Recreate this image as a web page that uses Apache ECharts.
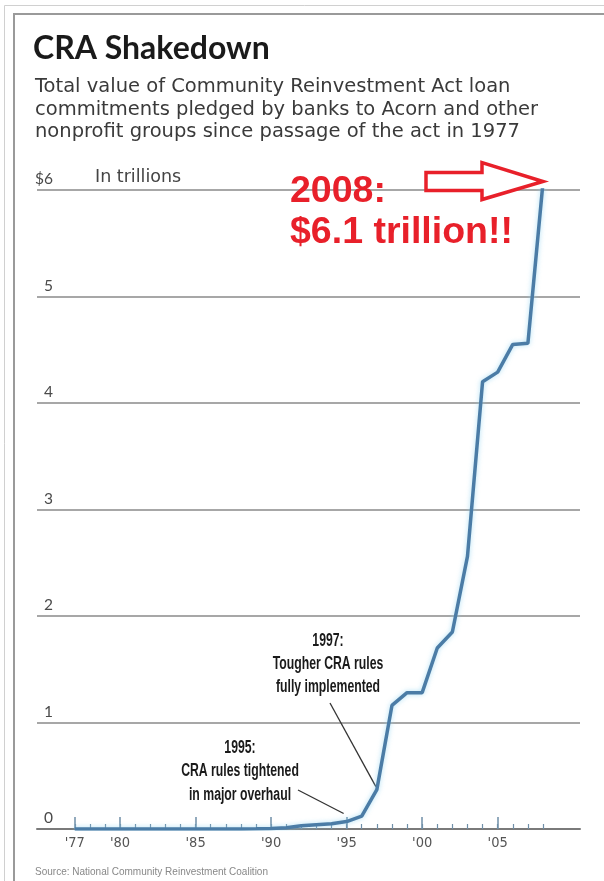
<!DOCTYPE html>
<html><head><meta charset="utf-8">
<script src="https://cdn.jsdelivr.net/npm/echarts@6/dist/echarts.min.js"></script>
<style>html,body{margin:0;padding:0;background:#fff}#c{width:604px;height:881px}</style>
</head><body><div id="c"></div>
<script>
// ---- data ----
const years = [1977,1978,1979,1980,1981,1982,1983,1984,1985,1986,1987,1988,1989,1990,1991,1992,1993,1994,1995,1996,1997,1998,1999,2000,2001,2002,2003,2004,2005,2006,2007,2008];
const values = [0,0,0,0,0,0,0,0,0,0,0,0,0.002,0.005,0.012,0.03,0.04,0.05,0.07,0.12,0.37,1.16,1.28,1.28,1.70,1.85,2.56,4.20,4.29,4.55,4.56,6.07];
const majorTickYears = [1977,1980,1985,1990,1995,2000,2005];
const xTickLabels = ["'77","'80","'85","'90","'95","'00","'05"];
const yTicks = [0,1,2,3,4,5,6];
const yTickLabels = ['0','1','2','3','4','5','$6'];
const titleText = 'CRA Shakedown';
const subtitleLines = ['Total value of Community Reinvestment Act loan','commitments pledged by banks to Acorn and other','nonprofit groups since passage of the act in 1977'];
const unitText = 'In trillions';
const sourceText = 'Source: National Community Reinvestment Coalition';
const note1997 = ['1997:','Tougher CRA rules','fully implemented'];
const note1995 = ['1995:','CRA rules tightened','in major overhaul'];
const callout = ['2008:','$6.1 trillion!!'];

const chart = echarts.init(document.getElementById('c'), null, {renderer:'canvas'});
const condensed = '"DejaVu Sans Condensed", "Liberation Sans", sans-serif';
const xMin = 1974.5, xMax = 2010.45;

chart.setOption({
  animation:false,
  backgroundColor:'#fff',
  grid:{left:37,right:24,top:190,bottom:52,containLabel:false,outerBoundsMode:'none'},
  xAxis:[{
    type:'value',min:xMin,max:xMax,position:'bottom',
    axisLine:{show:true,onZero:false,lineStyle:{color:'#7a7a7a',width:2}},
    axisTick:{show:true,inside:true,length:12,customValues:majorTickYears,lineStyle:{color:'#6f8fa8',width:1.5}},
    axisLabel:{show:true,customValues:majorTickYears,margin:7,color:'#555',fontFamily:condensed,fontSize:14.5,
      formatter:v=>xTickLabels[majorTickYears.indexOf(Math.round(v))]||''},
    splitLine:{show:false}
  },{
    type:'value',min:xMin,max:xMax,position:'bottom',offset:0,
    axisLine:{show:false},
    axisTick:{show:true,inside:true,length:5,customValues:years,lineStyle:{color:'#6f8fa8',width:1.2}},
    axisLabel:{show:false},
    splitLine:{show:false}
  }],
  yAxis:{
    type:'value',min:0,max:6,interval:1,
    axisLine:{show:false},axisTick:{show:false},
    splitLine:{show:true,lineStyle:{color:'#8a8a8a',width:1.5}},
    axisLabel:{inside:true,align:'right',margin:16,verticalAlign:'bottom',padding:[0,0,3,0],
      color:'#4a4a4a',fontFamily:'Lato',fontSize:15.5,
      formatter:v=>yTickLabels[yTicks.indexOf(v)]}
  },
  series:[{
    type:'line',xAxisIndex:0,showSymbol:false,z:5,
    data:years.map((y,i)=>[y,values[i]]),
    lineStyle:{color:'#4b7ca6',width:3.5,shadowColor:'rgba(140,210,240,0.7)',shadowBlur:5}
  }]
});

function px(x,y){return chart.convertToPixel({xAxisIndex:0,yAxisIndex:0},[x,y]);}
const tip = px(2008, values[values.length-1]);
const p97 = px(1997, values[years.indexOf(1997)]);
const p95 = px(1995, values[years.indexOf(1995)]);
const tx = tip[0], ty = tip[1]-1;

chart.setOption({graphic:[
  {type:'rect',shape:{x:4.5,y:5.5,width:700,height:900},style:{fill:null,stroke:'#d0d0d0',lineWidth:1},silent:true},
  {type:'rect',shape:{x:14,y:14,width:700,height:900},style:{fill:null,stroke:'#9a9a9a',lineWidth:2},silent:true},
  {type:'text',left:33,top:33,style:{text:titleText,font:'bold 32px Lato',fill:'#1a1a1a'}},
  {type:'text',left:35,top:76,style:{text:subtitleLines.join('\n'),font:'19.5px "DejaVu Sans"',lineHeight:22.5,fill:'#3a3a3a'}},
  {type:'text',left:95,top:168,style:{text:unitText,font:'17.5px "DejaVu Sans"',fill:'#444'}},
  {type:'text',x:35,y:872,scaleX:0.87,style:{text:sourceText,font:'11.5px "Liberation Sans"',fill:'#888',textVerticalAlign:'middle'}},
  {type:'text',x:290,y:173,style:{text:callout[0],font:'bold 37.5px "Liberation Sans"',fill:'#e8202a',textVerticalAlign:'top'}},
  {type:'text',x:290,y:213.5,style:{text:callout[1],font:'bold 37.5px "Liberation Sans"',fill:'#e8202a',textVerticalAlign:'top'}},
  {type:'polygon',shape:{points:[[tx-117,ty-9],[tx-61,ty-9],[tx-61,ty-19],[tx,ty],[tx-61,ty+18],[tx-61,ty+9],[tx-117,ty+9]]},
    style:{fill:'#fff',stroke:'#e8202a',lineWidth:3.5},z:10},
  {type:'text',x:328,y:664,scaleX:0.7,style:{text:note1997.join('\n'),font:'bold 17.5px "Liberation Sans"',lineHeight:23,fill:'#1a1a1a',textAlign:'center',textVerticalAlign:'middle'}},
  {type:'text',x:240,y:771.5,scaleX:0.7,style:{text:note1995.join('\n'),font:'bold 17.5px "Liberation Sans"',lineHeight:23.5,fill:'#1a1a1a',textAlign:'center',textVerticalAlign:'middle'}},
  {type:'line',shape:{x1:330,y1:703,x2:p97[0]-1,y2:p97[1]-3},style:{stroke:'#333',lineWidth:1.3}},
  {type:'line',shape:{x1:298,y1:790,x2:p95[0]-3,y2:p95[1]-8},style:{stroke:'#333',lineWidth:1.3}}
]});
</script></body></html>
